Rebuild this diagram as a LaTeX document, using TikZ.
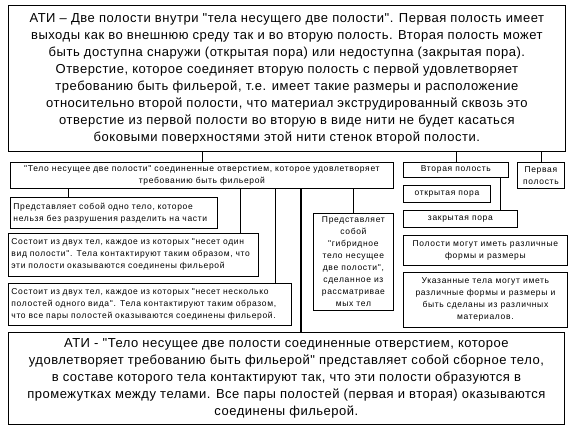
\documentclass[tikz,border=0pt]{standalone}
\usepackage{fontspec}
\setmainfont{Liberation Sans}[Ligatures=TeXOff, LetterSpace=4]
\newfontfamily\smallfont{Liberation Sans}[Ligatures=TeXOff, LetterSpace=8]
\begin{document}
\begin{tikzpicture}[x=1pt, y=-1pt,
    box/.style={draw, line width=0.8pt, anchor=north west, inner xsep=3pt, inner ysep=1pt},
    bigbox/.style={box, align=center, font=\fontsize{13}{17}\selectfont},
    smallbox/.style={box, align=center, font=\smallfont\fontsize{8.5}{12}\selectfont},
    leftbox/.style={smallbox, align=left}]
    \useasboundingbox[fill=white] (0,0) rectangle (576,432);
    \node[bigbox, minimum width=557pt, minimum height=146pt] (ati) at (8,5) {АТИ – Две полости внутри "тела несущего две полости". Первая полость имеет\\
        выходы как во внешнюю среду так и во вторую полость. Вторая полость может\\
        быть доступна снаружи (открытая пора) или недоступна (закрытая пора).\\
        Отверстие, которое соединяет вторую полость с первой удовлетворяет\\
        требованию быть фильерой, т.е. имеет такие размеры и расположение\\
        относительно второй полости, что материал экструдированный сквозь это\\
        отверстие из первой полости во вторую в виде нити не будет касаться\\
        боковыми поверхностями этой нити стенок второй полости.};
    \node[smallbox, minimum width=383pt, minimum height=26pt] (tel) at (10,162) {"Тело несущее две полости" соединенные отверстием, которое удовлетворяет\\
        требованию быть фильерой};
    \node[leftbox, text width=201pt, minimum height=31pt] (odno) at (10,197) {Представляет собой одно тело, которое\\
        нельзя без разрушения разделить на части};
    \node[leftbox, text width=244pt, minimum height=43pt] (dva1) at (8,233) {Состоит из двух тел, каждое из которых "несет один\\
        вид полости". Тела контактируют таким образом, что\\
        эти полости оказываются соединены фильерой};
    \node[leftbox, text width=277pt, minimum height=42pt] (dva2) at (8,283) {Состоит из двух тел, каждое из которых "несет несколько\\
        полостей одного вида". Тела контактируют таким образом,\\
        что все пары полостей оказываются соединены фильерой.};
    \node[smallbox, minimum width=80pt, minimum height=97pt] (gibr) at (313,213) {Представляет\\ собой\\ "гибридное\\ тело несущее\\ две полости",\\ сделанное из\\ рассматривае\\ мых тел};
    \node[smallbox, minimum width=105pt, minimum height=15pt] (vtor) at (403,162) {Вторая полость};
    \node[smallbox, minimum width=47pt, minimum height=26pt] (perv) at (517,162) {Первая\\ полость};
    \node[smallbox, minimum width=87pt, minimum height=17pt] (otkr) at (403,185) {открытая пора};
    \node[smallbox, minimum width=114pt, minimum height=17pt] (zakr) at (403,210) {закрытая пора};
    \node[smallbox, minimum width=164pt, minimum height=30pt] (form) at (403,235) {Полости могут иметь различные\\ формы и размеры};
    \node[smallbox, minimum width=164pt, minimum height=55pt] (ukaz) at (403,272) {Указанные тела могут иметь\\
        различные формы и размеры и\\
        быть сделаны из различных\\
        материалов.};
    \node[bigbox, minimum width=556pt, minimum height=92pt] (sbor) at (8,332) {АТИ - "Тело несущее две полости соединенные отверстием, которое\\
        удовлетворяет требованию быть фильерой" представляет собой сборное тело,\\
        в составе которого тела контактируют так, что эти полости образуются в\\
        промежутках между телами. Все пары полостей (первая и вторая) оказываются\\
        соединены фильерой.};
    \draw[line width=0.8pt] (ati.south -| tel.north) -- (tel.north);
    \draw[line width=0.8pt] (ati.south -| vtor.north) -- (vtor.north);
    \draw[line width=0.8pt] (ati.south -| perv.north) -- (perv.north);
    \draw[line width=0.8pt] (tel.south -| 68,0) -- (odno.north -| 68,0);
    \draw[line width=0.8pt] (tel.south -| 240,0) -- (dva1.north -| 240,0);
    \draw[line width=0.8pt] (tel.south -| 275,0) -- (dva2.north -| 275,0);
    \draw[line width=0.8pt] (tel.south -| gibr.north) -- (gibr.north);
    \draw[line width=2.4pt] (tel.south -| 301,0) -- (sbor.north -| 301,0);
    \draw[line width=0.8pt] (vtor.south -| 500,0) -- (zakr.north -| 500,0);
\end{tikzpicture}
\end{document}
